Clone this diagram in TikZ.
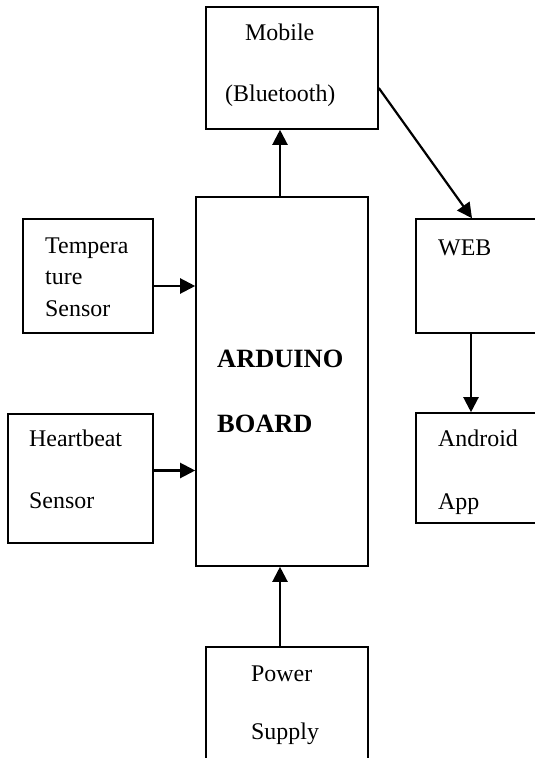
\documentclass[tikz,border=0pt]{standalone}
\usepackage{fontspec}
\setmainfont{Liberation Serif}
\usetikzlibrary{arrows.meta,calc}
\begin{document}
\begin{tikzpicture}[x=1bp,y=-1bp,
  blk/.style={draw=black,line width=1.6bp,rectangle,inner sep=0pt},
  lbl/.style={anchor=base west,inner sep=0pt,font=\fontsize{24}{28}\selectfont},
  blbl/.style={anchor=base west,inner sep=0pt,font=\fontsize{26.5}{30}\selectfont\bfseries},
  conn/.style={line width=2.2bp,-{Triangle[length=15bp,width=15bp]}}]
\clip (0,0) rectangle (535,758);
\fill[white] (0,0) rectangle (535,758);
% boxes
\node[blk,minimum width=172bp,minimum height=122bp] (mobile) at (292,68) {};
\node[blk,minimum width=172bp,minimum height=369bp] (arduino) at (282,381.5) {};
\node[blk,minimum width=130bp,minimum height=114bp] (temp) at (88,276) {};
\node[blk,minimum width=145bp,minimum height=129bp] (heart) at (80.5,478.5) {};
\node[blk,minimum width=162bp,minimum height=123bp] (power) at (287,708.5) {};
\node[blk,minimum width=124bp,minimum height=114bp] (web) at (478,276) {};
\node[blk,minimum width=124bp,minimum height=110bp] (android) at (478,468) {};
% labels
\node[lbl] (t1) at (245,41) {Mobile};
\node[lbl] (t2) at (225,101) {(Bluetooth)};
\node[lbl] (t3) at (45,253) {Tempera};
\node[lbl] (t4) at (45,284.5) {ture};
\node[lbl] (t5) at (45,316) {Sensor};
\node[lbl] (t6) at (29,446) {Heartbeat};
\node[lbl] (t7) at (29,508) {Sensor};
\node[lbl] (t8) at (251,681) {Power};
\node[lbl] (t9) at (251,739) {Supply};
\node[lbl] (t10) at (438,255) {WEB};
\node[lbl] (t11) at (438,446) {Android};
\node[lbl] (t12) at (438,509) {App};
\node[blbl] (t13) at (217,367) {ARDUINO};
\node[blbl] (t14) at (217,432) {BOARD};
% connectors
\coordinate (aTop) at ([xshift=-2bp]arduino.north);
\draw[conn] (aTop) -- (aTop |- mobile.south);
\draw[conn] ([yshift=-20bp]mobile.east) -- ([xshift=-6bp]web.north);
\draw[conn] ([xshift=-7bp]web.south) -- ([xshift=-7bp]android.north);
\draw[conn] ([yshift=-10bp]temp.east) -- ([yshift=-10bp]temp.east -| arduino.west);
\draw[conn] ([yshift=8bp]heart.east) -- ([yshift=8bp]heart.east -| arduino.west);
\coordinate (pTop) at ([xshift=-7bp]power.north);
\draw[conn] (pTop) -- (pTop |- arduino.south);
\end{tikzpicture}
\end{document}
